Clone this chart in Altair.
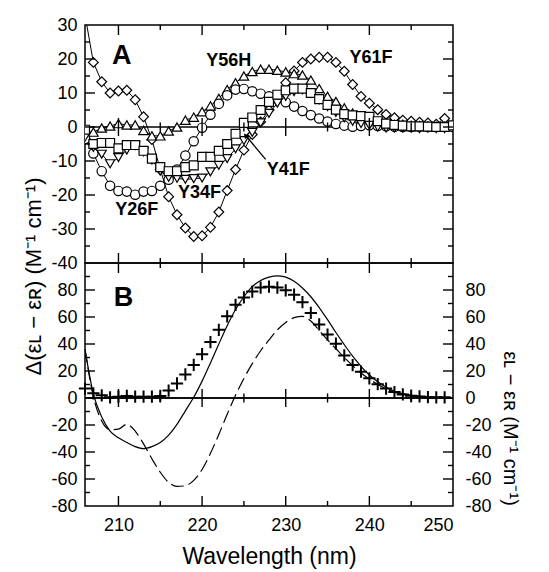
import altair as alt
import pandas as pd

FONT = "Liberation Sans"

# ---------------- data ----------------
wavelength = list(range(206, 251))

# Panel A : difference spectra of the mutants
y61f = [33, 19, 13.3, 10, 10.6, 10.8, 8, 3, -3.7, -12.5,
        -20.5, -25.8, -29.7, -32.2, -32, -29.5, -25, -18.7, -12.5, -6.8,
        -2.2, 1.5, 5, 9, 13, 16.5, 19, 20, 20.5, 20.5,
        19, 16.4, 12.5, 9, 7, 5.1, 3.7, 2.7, 2, 1.7,
        1.4, 1.2, 0.8, 2.5, 0.3]
y56h = [-1.5, -1.5, -0.3, 0.3, 1, 0.6, 0.6, -1, -2.6, -2.6,
        -1.2, 0, 2, 2.9, 4.5, 6.2, 8.4, 11, 13, 15,
        16.3, 17, 17, 16.7, 16.2, 15.7, 15.3, 13.8, 11.3, 9,
        7.5, 5.6, 4.1, 3.2, 2.2, 1.4, 1.2, 0.8, 0.8, 0.5,
        0.4, 0.3, 0.2, 0.1, 0.2]
y26f = [-3.5, -7.8, -13, -17.3, -18.8, -19, -19.9, -19, -18.8, -17.3,
        -15.5, -12.5, -8.4, -4.2, -0.2, 3.6, 6.8, 9.3, 11, 11.2,
        10.5, 9.8, 9, 8.2, 7.3, 6, 4.7, 3.5, 2.5, 1.6,
        0.9, 0.4, 0.1, 0.3, 0.5, 0.3, 0.2, 0.1, 0, 0,
        0.1, 0, 0, 0.1, 0]
y34f = [-3, -6, -8, -10.8, -9, -6.8, -5.5, -7.3, -9.7, -13,
        -14.8, -15.1, -15.4, -15.2, -15, -13.2, -11.3, -9.3, -6.4, -4,
        -1.6, 1.2, 4, 7, 9, 10.4, 10.9, 9.9, 8, 6,
        4.3, 2.7, 1.7, 1, 0.5, 0, -0.3, -0.3, -0.3, -0.3,
        -0.5, -0.3, -0.5, -0.5, 0]
y41f = [-0.8, -5, -4.7, -4.7, -6.3, -5.3, -5.3, -7, -9.3, -11.8,
        -13, -13, -11.8, -11.3, -8.8, -8.8, -7, -5, -2, 1.2,
        2.8, 5, 7.4, 9.5, 10.8, 11.3, 11.3, 10, 8.2, 6.5,
        5.1, 3.8, 3.4, 3.2, 3, 1.7, 1, 0.6, 0.4, 0.2,
        0.2, 0.1, 0, 0, 0.5]

series_names = ["Y61F", "Y56H", "Y26F", "Y34F", "Y41F"]
series_shapes = ["diamond", "triangle-up", "circle", "triangle-down", "square"]
series_sizes = [95, 80, 80, 80, 60]

# Panel B
cross_wavelength = list(range(206, 250))
crosses = [7, 3.5, 2, 0.5, 1, 1.5, 1, 1, 1, 1.5,
           5.5, 10.8, 17.5, 24.5, 32.5, 41.4, 50.5, 60.5, 69, 74.5,
           78.8, 81.8, 82.5, 81.8, 79.8, 76.5, 71, 63, 54.5, 47,
           40.2, 31.5, 24.4, 19.5, 14.6, 10.2, 7, 4.4, 2.6, 1.7,
           1.2, 0.6, 0.5, 0.5]
solid = [36, 3, -14, -24.5, -29.5, -33, -36, -37.5, -36, -33,
         -27.5, -19.5, -9.5, 0.5, 12.5, 26, 40, 53.5, 65.5, 75,
         82.5, 87, 89.5, 90.5, 89.5, 86.5, 81.5, 75, 67, 58,
         48.5, 39.5, 31, 23.5, 17, 12, 8, 5, 3.2, 2,
         1.2, 0.7, 0.4, 0.2, 0]
dashed = [36, 1, -17, -23.5, -23, -19.5, -24.5, -34, -45, -55,
          -62.5, -65.5, -65, -61, -53, -41, -27, -12, 2, 14.5,
          25.5, 35, 43, 50.5, 56, 59.5, 60.5, 57, 50, 43,
          36.5, 30, 24, 18.5, 14, 10, 6.8, 4.3, 2.6, 1.6,
          1, 0.6, 0.3, 0.1, 0]

# tick positions / labels
x_major = [210, 220, 230, 240]
x_minor = [215, 225, 235, 245]
x_labels = [210, 220, 230, 240, 250]
yA_major = [-30, -20, -10, 0, 10, 20]
yA_minor = [-35, -25, -15, -5, 5, 15, 25]
yA_labels = [-40, -30, -20, -10, 0, 10, 20, 30]
yB_major = [-60, -40, -20, 0, 20, 40, 60, 80]
yB_minor = [-70, -50, -30, -10, 10, 30, 50, 70, 90]
yB_labels = [-80, -60, -40, -20, 0, 20, 40, 60, 80]

# annotations
labelsA = ["Y56H", "Y61F", "Y41F", "Y34F", "Y26F"]
labelsA_x = [223.2, 240.2, 230.3, 219.7, 212.2]
labelsA_y = [19.5, 20.3, -12.5, -19.3, -24.5]
arrow_x = [227.6]
arrow_x2 = [225.2]
arrow_y = [-9.5]
arrow_y2 = [-2.5]

W, HA, HB = 368, 238, 243
MAJ, MIN = 10, 5
XDOM = [206, 250]
YA_DOM = [-40, 30]
YB_DOM = [-80, 100]

xs = alt.Scale(domain=XDOM, nice=False, zero=False)
yA = alt.Scale(domain=YA_DOM, nice=False, zero=False)
yB = alt.Scale(domain=YB_DOM, nice=False, zero=False)


def frame_ticks(yscale, ydom, H, ymaj, ymin):
    ux = (XDOM[1] - XDOM[0]) / W
    uy = (ydom[1] - ydom[0]) / H
    rows = []
    for vals, ln in ((x_major, MAJ), (x_minor, MIN)):
        for v in vals:
            rows.append({"tx": v, "tx2": v, "ty": ydom[1], "ty2": ydom[1] - ln * uy})
            rows.append({"tx": v, "tx2": v, "ty": ydom[0], "ty2": ydom[0] + ln * uy})
    for vals, ln in ((ymaj, MAJ), (ymin, MIN)):
        for v in vals:
            rows.append({"tx": XDOM[0], "tx2": XDOM[0] + ln * ux, "ty": v, "ty2": v})
            rows.append({"tx": XDOM[1], "tx2": XDOM[1] - ln * ux, "ty": v, "ty2": v})
    for vals, ln in ((x_major, 18), (x_minor, 9)):
        for v in vals:
            rows.append({"tx": v, "tx2": v, "ty": -ln / 2 * uy, "ty2": ln / 2 * uy})
    return alt.Chart(pd.DataFrame(rows)).mark_rule(color="black", strokeWidth=1.4).encode(
        x=alt.X("tx:Q", scale=xs, axis=None), x2="tx2:Q",
        y=alt.Y("ty:Q", scale=yscale, axis=None), y2="ty2:Q")


label_expr = "'' + datum.value"

# ---------------- panel A ----------------
rows = []
for name, vals in zip(series_names, [y61f, y56h, y26f, y34f, y41f]):
    for w, v in zip(wavelength, vals):
        rows.append({"wl": w, "val": v, "s": name})
dfA = pd.DataFrame(rows)

zeroA = alt.Chart(pd.DataFrame({"z": [0]})).mark_rule(color="black", strokeWidth=1.5).encode(
    y=alt.Y("z:Q", scale=yA, axis=alt.Axis(values=yA_labels, labelExpr=label_expr, ticks=False,
                                           domain=False, grid=False, labelPadding=8, title=None)))

linesA = alt.Chart(dfA).mark_line(color="black", strokeWidth=1, clip=True).encode(
    x=alt.X("wl:Q", scale=xs, axis=None),
    y=alt.Y("val:Q", scale=yA, axis=None),
    detail="s:N")

pointsA = alt.Chart(dfA).mark_point(filled=True, fill="white", stroke="black", strokeWidth=1.2,
                                     opacity=1, clip=True).encode(
    x=alt.X("wl:Q", scale=xs, axis=None),
    y=alt.Y("val:Q", scale=yA, axis=None),
    shape=alt.Shape("s:N", scale=alt.Scale(domain=series_names, range=series_shapes), legend=None),
    size=alt.Size("s:N", scale=alt.Scale(domain=series_names, range=series_sizes), legend=None))

textA = alt.Chart(pd.DataFrame({"t": labelsA, "x": labelsA_x, "y": labelsA_y})).mark_text(
    font=FONT, fontSize=18, fontWeight="bold", color="black").encode(
    x=alt.X("x:Q", scale=xs, axis=None), y=alt.Y("y:Q", scale=yA, axis=None), text="t:N")

letterA = alt.Chart(pd.DataFrame({"t": ["A"], "x": [210.4], "y": [20.8]})).mark_text(
    font=FONT, fontSize=27, fontWeight="bold", color="black").encode(
    x=alt.X("x:Q", scale=xs, axis=None), y=alt.Y("y:Q", scale=yA, axis=None), text="t:N")

arrow_df = pd.DataFrame({"x": arrow_x, "x2": arrow_x2, "y": arrow_y, "y2": arrow_y2})
arrowA = alt.Chart(arrow_df).mark_rule(color="black", strokeWidth=1.3).encode(
    x=alt.X("x:Q", scale=xs, axis=None), x2="x2:Q",
    y=alt.Y("y:Q", scale=yA, axis=None), y2="y2:Q")
arrowHead = alt.Chart(arrow_df).mark_point(shape="triangle-up", size=35, filled=True, color="black",
                                           opacity=1, angle=320).encode(
    x=alt.X("x2:Q", scale=xs, axis=None), y=alt.Y("y2:Q", scale=yA, axis=None))

panelA = alt.layer(zeroA, linesA, pointsA, textA, letterA, arrowA, arrowHead,
                   frame_ticks(yA, YA_DOM, HA, yA_major, yA_minor)).resolve_axis(
    x="independent", y="independent").properties(width=W, height=HA)

# ---------------- panel B ----------------
dfC = pd.DataFrame({"wl": cross_wavelength, "val": crosses})
dfS = pd.DataFrame({"wl": wavelength, "val": solid})
dfD = pd.DataFrame({"wl": wavelength, "val": dashed})

zeroB = alt.Chart(pd.DataFrame({"z": [0]})).mark_rule(color="black", strokeWidth=1.5).encode(
    y=alt.Y("z:Q", scale=yB, axis=alt.Axis(values=yB_labels, labelExpr=label_expr, ticks=False,
                                           domain=False, grid=False, labelPadding=8,
                                           title="Δ(εʟ − εʀ) (M⁻¹ cm⁻¹)", titleY=13,
                                           titleAlign="center", titlePadding=5)))

zeroB2 = alt.Chart(pd.DataFrame({"z": [0]})).mark_rule(color="black", strokeWidth=1.5).encode(
    y=alt.Y("z:Q", scale=yB, axis=alt.Axis(orient="right", values=yB_labels, labelExpr=label_expr,
                                           ticks=False, domain=False, grid=False, labelPadding=12,
                                           title="εʟ − εʀ (M⁻¹ cm⁻¹)", titleY=165, titleFontSize=20,
                                           titleAlign="center", titlePadding=8)))

solidB = alt.Chart(dfS).mark_line(color="black", strokeWidth=1.2, interpolate="monotone", clip=True).encode(
    x=alt.X("wl:Q", scale=xs, axis=None), y=alt.Y("val:Q", scale=yB, axis=None))

dashedB = alt.Chart(dfD).mark_line(color="black", strokeWidth=1.2, interpolate="monotone",
                                   strokeDash=[13, 5], clip=True).encode(
    x=alt.X("wl:Q", scale=xs, axis=None), y=alt.Y("val:Q", scale=yB, axis=None))

crossB = alt.Chart(dfC).mark_point(shape="M-1,0H1M0,-1V1", size=150, stroke="black",
                                   strokeWidth=2, filled=False, opacity=1).encode(
    x=alt.X("wl:Q", scale=xs, axis=alt.Axis(values=x_labels, ticks=False, domain=False, grid=False,
                                            labelPadding=10, title="Wavelength (nm)",
                                            titleFontSize=23, titlePadding=11)),
    y=alt.Y("val:Q", scale=yB, axis=None))

letterB = alt.Chart(pd.DataFrame({"t": ["B"], "x": [210.6], "y": [74]})).mark_text(
    font=FONT, fontSize=27, fontWeight="bold", color="black").encode(
    x=alt.X("x:Q", scale=xs, axis=None), y=alt.Y("y:Q", scale=yB, axis=None), text="t:N")

panelB = alt.layer(zeroB, zeroB2, solidB, dashedB, crossB, letterB,
                   frame_ticks(yB, YB_DOM, HB, yB_major, yB_minor)).resolve_axis(
    x="independent", y="independent").properties(width=W, height=HB)

chart = alt.vconcat(panelA, panelB, spacing=0, bounds="flush").properties(
    padding={"left": 14, "top": 7, "right": 5, "bottom": 5}
).configure_axis(
    labelFont=FONT, labelFontSize=18, labelColor="black",
    titleFont=FONT, titleFontSize=22, titleFontWeight="normal", titleColor="black"
).configure_view(stroke="black", strokeWidth=1.5).configure_text(font=FONT)

chart.save("out.html", embed_options={"renderer": "svg", "actions": False})
